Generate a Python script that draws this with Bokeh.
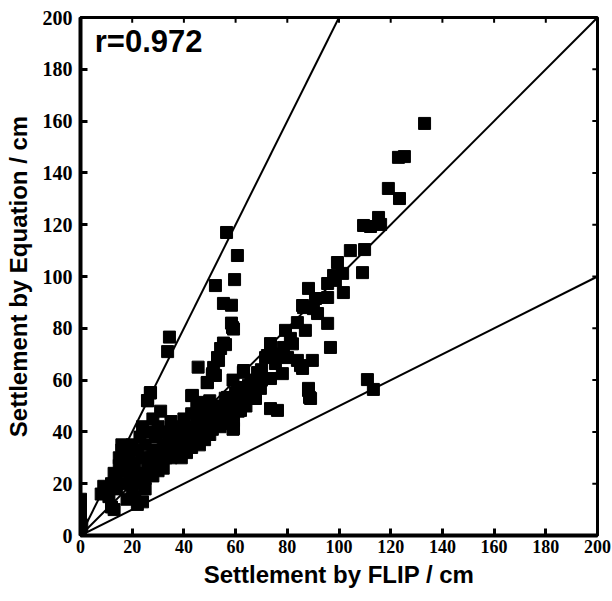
from bokeh.plotting import figure
from bokeh.models import Range1d, FixedTicker, Label, ColumnDataSource
from bokeh.embed import file_html
from bokeh.resources import INLINE

# Settlement by FLIP (x) and by Equation (y), cm
flip = [0, 0, 0, 0, 0, 0.5,
        8, 9, 10, 11, 12, 13, 12, 13, 14, 14, 15, 15, 16, 16, 17, 17, 18, 18, 19, 19,
        20, 20, 20, 21, 21, 22, 22, 22, 23, 23, 24, 24, 24, 25, 25, 25, 26, 26, 26, 27,
        27, 28, 28, 28, 29, 29, 30, 30, 30, 31, 31, 32, 32, 33, 33, 34, 34, 35, 35, 36,
        36, 37, 37, 38, 38, 39, 39, 40, 40, 40, 41, 41, 42, 42, 43, 43, 43, 44, 44, 45,
        45, 45, 46, 46, 47, 47, 47, 48, 48, 49, 49, 49, 50, 50, 50, 51, 51, 51, 52, 52,
        53, 53, 54, 54, 55, 55, 56, 56, 57, 57, 58, 58, 59, 59, 59, 59, 60, 60, 61, 62,
        62, 63, 63, 64, 65, 66, 66,
        34.4, 33.7, 45.5, 52.2, 53.4, 55.3, 56.1, 58.8, 58.4, 59.2, 56.5, 60.7, 52.2,
        59.6, 55.3, 58.4, 54.2, 53.0, 51.5, 51.1, 49.1, 43.3, 27.1, 25.9, 47.2, 56.9,
        63.1, 68.5, 66.5, 73.5, 61.9, 69.6, 67.7, 61.9, 73.5, 76.2, 61.9, 59.2, 59.2,
        54.9, 72.3, 73.5, 75.4, 78.5, 80.1, 78.1, 81.2, 79.3, 83.9, 85.9, 90.1, 87.0,
        85.1, 85.9, 89.7, 88.2, 89.0, 96.7, 95.6, 71.6, 83.9, 66.9, 65.0, 70.0, 76.0,
        82.0, 70.0, 60.7, 57.0,
        88.2, 90.9, 95.6, 101.7, 98.6, 86.3, 91.7, 95.6, 97.9, 101.4, 99.4, 104.4,
        109.9, 109.1, 109.5, 112.2, 115.3, 116.1, 119.1, 123.4, 123.0, 125.3, 133.1,
        111.0, 113.3, 88.6, 88.2]
equation = [3, 6, 9, 12, 14, 4,
            16, 19, 17, 15, 11, 10, 20, 24, 18, 22, 27, 30, 33, 35, 20, 25, 14, 28, 22, 31,
            18, 25, 35, 15, 28, 12, 20, 33, 24, 38, 13, 30, 42, 18, 22, 35, 26, 40, 52, 55,
            30, 23, 33, 45, 28, 38, 25, 32, 42, 48, 29, 35, 26, 30, 40, 33, 37, 30, 44, 34,
            40, 31, 36, 33, 42, 30, 38, 35, 40, 45, 32, 37, 38, 42, 34, 47, 54, 36, 40, 38,
            44, 50, 35, 42, 40, 46, 51, 37, 44, 42, 48, 59, 39, 45, 52, 41, 47, 62, 44, 49,
            46, 68, 42, 50, 45, 49, 47, 53, 44, 50, 46, 52, 41, 43, 48, 60, 50, 55, 48, 52,
            57, 54, 63, 50, 56, 58, 60,
            76.6, 71.0, 65.0, 61.8, 67.6, 74.3, 73.7, 80.3, 82.0, 79.7, 117.0, 108.1, 96.5,
            98.8, 89.6, 88.9, 72.2, 68.7, 64.9, 62.5, 59.1, 54.1, 55.2, 52.1, 51.4, 53.3,
            63.7, 62.9, 59.8, 60.6, 56.8, 56.8, 52.9, 52.1, 49.0, 48.3, 48.3, 44.4, 41.3,
            43.2, 69.5, 74.1, 66.4, 72.6, 68.7, 62.5, 76.1, 79.2, 82.2, 88.8, 87.6, 79.2,
            65.6, 64.5, 67.6, 56.8, 52.9, 72.6, 81.9, 68.7, 67.6, 57.9, 58.0, 64.0, 70.0,
            74.0, 60.0, 57.1, 53.3,
            95.4, 91.5, 91.9, 93.8, 98.5, 88.0, 85.7, 97.3, 100.4, 101.2, 105.4, 110.0,
            110.4, 101.5, 119.7, 119.3, 122.8, 120.1, 134.0, 130.1, 146.0, 146.3, 159.1,
            60.2, 56.4, 53.3, 56.0]

# Reference lines: y = 2x, y = x, y = 0.5x
ref_x = [[0, 100], [0, 200], [0, 200]]
ref_y = [[0, 200], [0, 200], [0, 100]]

ticks = [0, 20, 40, 60, 80, 100, 120, 140, 160, 180, 200]
r_text = "r=0.972"

X_MAX = 200
Y_MAX = 200
TICK_LEN = 2  # small inward ticks on top/right frame (data units)

p = figure(width=612, height=601, output_backend="svg", toolbar_location=None,
           x_range=Range1d(0, X_MAX), y_range=Range1d(0, Y_MAX),
           min_border_left=80, min_border_right=15, min_border_top=17, min_border_bottom=66,
           x_axis_label="Settlement by FLIP / cm",
           y_axis_label="Settlement by Equation / cm")
p.grid.visible = False
p.background_fill_color = "white"
p.border_fill_color = "white"
p.outline_line_color = "black"
p.outline_line_width = 3

for ax in (p.xaxis[0], p.yaxis[0]):
    ax.ticker = FixedTicker(ticks=ticks)
    ax.axis_line_width = 4
    ax.major_tick_in = 7
    ax.major_tick_out = 0
    ax.major_tick_line_width = 3
    ax.minor_tick_line_color = None
    ax.major_label_text_font = "Liberation Serif"
    ax.major_label_text_font_style = "bold"
    ax.major_label_text_color = "black"
    ax.axis_label_text_font = "Liberation Sans"
    ax.axis_label_text_font_style = "bold"
    ax.axis_label_text_font_size = "24px"
    ax.axis_label_text_color = "black"
p.xaxis[0].major_label_text_font_size = "18px"
p.yaxis[0].major_label_text_font_size = "20px"
p.xaxis[0].major_label_standoff = 4
p.yaxis[0].major_label_standoff = 8
p.xaxis[0].axis_label_standoff = 5
p.yaxis[0].axis_label_standoff = 8

# small inward ticks on the top and right edges of the frame
p.segment(x0=ticks, y0=[Y_MAX] * len(ticks), x1=ticks, y1=[Y_MAX - TICK_LEN] * len(ticks),
          line_color="black", line_width=2)
p.segment(x0=[X_MAX] * len(ticks), y0=ticks, x1=[X_MAX - TICK_LEN] * len(ticks), y1=ticks,
          line_color="black", line_width=2)

for xs, ys in zip(ref_x, ref_y):
    p.line(xs, ys, line_color="black", line_width=2)

src = ColumnDataSource(dict(x=flip, y=equation))
p.scatter("x", "y", source=src, marker="square", size=12,
          fill_color="black", line_color="black")

p.add_layout(Label(x=5.5, y=197.5, text=r_text, text_font="Liberation Sans",
                   text_font_style="bold", text_font_size="31px",
                   text_baseline="top", text_color="black"))

open("out.html", "w").write(file_html(p, INLINE))
